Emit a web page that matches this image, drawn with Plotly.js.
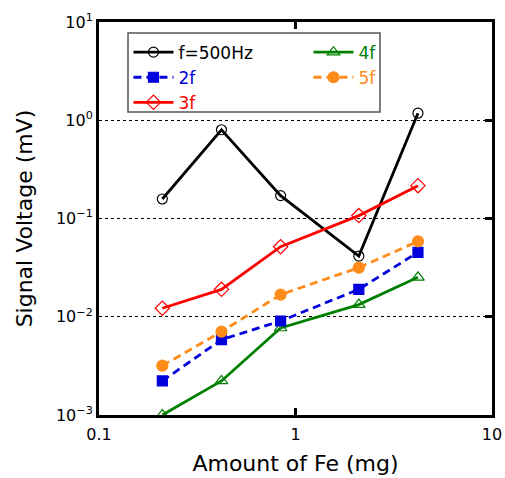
<!DOCTYPE html>
<html><head><meta charset="utf-8">
<script src="https://cdn.plot.ly/plotly-3.0.1.min.js"></script>
<style>body{margin:0;background:#fff}#chart{width:505px;height:478px}</style>
</head><body><div id="chart"></div>
<script>
const feAmount = [0.21, 0.42, 0.84, 2.1, 4.2];
const sig1f = [0.158, 0.80, 0.171, 0.0415, 1.18];
const sig2f = [0.00222, 0.00584, 0.00905, 0.019, 0.0453];
const sig3f = [0.0122, 0.019, 0.0516, 0.107, 0.216];
const sig4f = [0.001, 0.00222, 0.00768, 0.0133, 0.0252];
const sig5f = [0.00318, 0.00705, 0.0168, 0.0316, 0.0586];
const seriesNames = ['f=500Hz', '2f', '3f', '4f', '5f'];
const yTickVals = [0.001, 0.01, 0.1, 1, 10];
const yTickText = ['10<sup>−3</sup>', '10<sup>−2</sup>', '10<sup>−1</sup>', '10<sup>0</sup>', '10<sup>1</sup>'];
const xTickVals = [0.1, 1, 10];
const xTickText = ['0.1', '1', '10'];

const FONT = '"DejaVu Sans", sans-serif';
function tr(y, name, color, symbol, dash, rank, size){
  return {x: feAmount, y: y, type: 'scatter', mode: 'lines+markers',
    name: '<span style="color:' + color + '">' + name + '</span>',
    legendrank: rank,
    line: {color: color, width: 2.8, dash: dash},
    marker: {color: color, symbol: symbol, size: size, line: {color: color, width: 1.2}}};
}
const data = [
  tr(sig1f, seriesNames[0], '#000000', 'circle-open', 'solid', 1, 10),
  tr(sig4f, seriesNames[3], '#008000', 'triangle-up-open', 'solid', 2, 11),
  tr(sig2f, seriesNames[1], '#0000dd', 'square', '8px,5px', 3, 10),
  tr(sig5f, seriesNames[4], '#ff8c1a', 'circle', '8px,5px', 4, 11),
  tr(sig3f, seriesNames[2], '#ff0000', 'diamond-open', 'solid', 5, 11),
  {x: [1], y: [1], yaxis: 'y2', type: 'scatter', mode: 'markers', showlegend: false, hoverinfo: 'skip', marker: {opacity: 0}}
];
const layout = {
  width: 505, height: 478,
  margin: {l: 99, r: 13, t: 22, b: 63},
  paper_bgcolor: '#fff', plot_bgcolor: '#fff',
  font: {family: FONT, color: '#000'},
  showlegend: true,
  legend: {orientation: 'h', x: 0.075, y: 0.968, xanchor: 'left', yanchor: 'top',
    entrywidth: 125, entrywidthmode: 'pixels', itemwidth: 40,
    bgcolor: 'rgba(0,0,0,0)', borderwidth: 0,
    font: {family: FONT, size: 17}, traceorder: 'normal', tracegroupgap: 0},
  shapes: [{type: 'rect', xref: 'paper', yref: 'paper', x0: 0.0738, x1: 0.715, y0: 0.771, y1: 0.972,
    line: {color: '#555', width: 1.5}, fillcolor: '#fff', layer: 'below'}],
  xaxis: {type: 'log', range: [-1, 1], tickvals: xTickVals, ticktext: xTickText, ticks: 'inside', ticklen: 7, tickwidth: 3,
    tickcolor: '#000', showline: true, linecolor: '#000', linewidth: 3, mirror: 'ticks',
    showgrid: false, zeroline: false, tickfont: {size: 16, family: FONT}, ticklabelstandoff: 3,
    title: {text: 'Amount of Fe (mg)', font: {size: 22, family: FONT}, standoff: 13}},
  yaxis: {type: 'log', range: [-3, 1], tickvals: yTickVals, ticktext: yTickText, ticks: '',
    showline: true, linecolor: '#000', linewidth: 3, mirror: true,
    showgrid: true, gridcolor: '#000', gridwidth: 1, griddash: 'dot', zeroline: false,
    tickfont: {size: 16, family: FONT},
    title: {text: 'Signal Voltage (mV)', font: {size: 22, family: FONT}, standoff: 18}},
  yaxis2: {type: 'log', range: [-3, 1], tickvals: yTickVals, overlaying: 'y', side: 'right',
    ticks: 'inside', ticklen: 7, tickwidth: 3, tickcolor: '#000', showticklabels: false,
    showgrid: false, zeroline: false, showline: false}
};
Plotly.newPlot('chart', data, layout, {displayModeBar: false, staticPlot: true});
</script></body></html>
